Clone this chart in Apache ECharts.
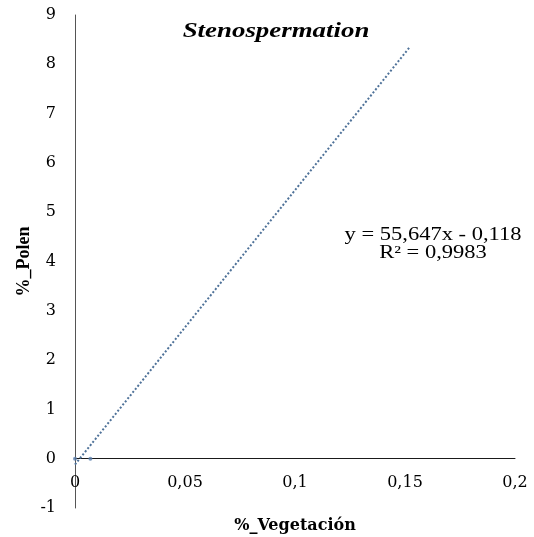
<!DOCTYPE html>
<html>
<head>
<meta charset="utf-8">
<script src="https://cdn.jsdelivr.net/npm/echarts@6/dist/echarts.min.js"></script>
<style>
  html, body { margin: 0; padding: 0; background: #fff; }
  #chart { width: 534px; height: 537px; }
</style>
</head>
<body>
<div id="chart"></div>
<script>
// Observed pairs (% vegetation, % pollen)
const vegetacion = [0, 0.007];
const polen = [0, 0];

// Linear trend line: y = slope * x + intercept, drawn across the data range
const slope = [55.647];
const intercept = [-0.118];
const trendRange = [0, 0.152];
const r2 = [0.9983];

// Axis ticks
const xTicks = [0, 0.05, 0.1, 0.15, 0.2];
const yTicks = [-1, 0, 1, 2, 3, 4, 5, 6, 7, 8, 9];

const fmt = (v, d) => v.toFixed(d).replace('.', ',');
const trend = trendRange.map(x => [x, slope[0] * x + intercept[0]]);
const points = vegetacion.map((x, i) => [x, polen[i]]);

const serif = '"Liberation Serif", "Times New Roman", serif';
const wideSerif = '"DejaVu Serif", serif';

// Plot box; the x axis is lifted from the bottom edge up to y = 0
const gridTop = 15, gridBottom = 29, chartH = 537;
const unitPx = (chartH - gridTop - gridBottom) / (yTicks[yTicks.length - 1] - yTicks[0]);
const xAxisLift = -(0 - yTicks[0]) * unitPx;

const chart = echarts.init(document.getElementById('chart'));
chart.setOption({
  animation: false,
  backgroundColor: '#ffffff',
  grid: { left: 75, right: 19, top: gridTop, bottom: gridBottom, containLabel: false, outerBoundsMode: 'none' },
  xAxis: {
    type: 'value',
    min: xTicks[0], max: xTicks[xTicks.length - 1], interval: 0.05,
    offset: xAxisLift,
    axisLine: { onZero: false, lineStyle: { color: '#1a1a1a', width: 1 } },
    axisTick: { show: false },
    splitLine: { show: false },
    axisLabel: {
      margin: 16, color: '#000', fontFamily: wideSerif, fontSize: 16,
      formatter: v => v === 0 ? '0' : String(v).replace('.', ',')
    },
    name: '%_Vegetación', nameLocation: 'middle', nameGap: 59,
    nameTextStyle: { fontFamily: wideSerif, fontSize: 16, fontWeight: 'bold', color: '#000' }
  },
  yAxis: {
    type: 'value',
    min: yTicks[0], max: yTicks[yTicks.length - 1], interval: 1,
    axisLine: { show: true, onZero: false, lineStyle: { color: '#555', width: 1 } },
    axisTick: { show: false },
    splitLine: { show: false },
    axisLabel: { margin: 19, color: '#000', fontFamily: wideSerif, fontSize: 16 },
    name: '%_Polen', nameLocation: 'middle', nameGap: 42, nameRotate: 90,
    nameMoveOverlap: false,
    nameTextStyle: { fontFamily: serif, fontSize: 18, fontWeight: 'bold', color: '#000' }
  },
  series: [
    {
      type: 'line',
      data: trend,
      showSymbol: false,
      lineStyle: { color: '#4f7299', width: 2, type: [2, 2] },
      z: 2
    },
    {
      type: 'scatter',
      data: points,
      symbol: 'circle',
      symbolSize: 4,
      itemStyle: { color: '#5b7fae' },
      z: 3
    }
  ],
  graphic: [
    {
      type: 'text', x: 276, y: 32, scaleX: 1.28,
      style: {
        text: 'Stenospermation', textAlign: 'center', textVerticalAlign: 'middle',
        font: 'italic bold 21px ' + serif, fill: '#000'
      }
    },
    {
      type: 'text', x: 433, y: 235, scaleX: 1.25,
      style: {
        text: 'y = ' + fmt(slope[0], 3) + 'x - ' + fmt(-intercept[0], 3),
        textAlign: 'center', textVerticalAlign: 'middle',
        font: '18px ' + serif, fill: '#000'
      }
    },
    {
      type: 'text', x: 433, y: 253, scaleX: 1.25,
      style: {
        text: 'R² = ' + fmt(r2[0], 4),
        textAlign: 'center', textVerticalAlign: 'middle',
        font: '18px ' + serif, fill: '#000'
      }
    }
  ]
});
</script>
</body>
</html>
